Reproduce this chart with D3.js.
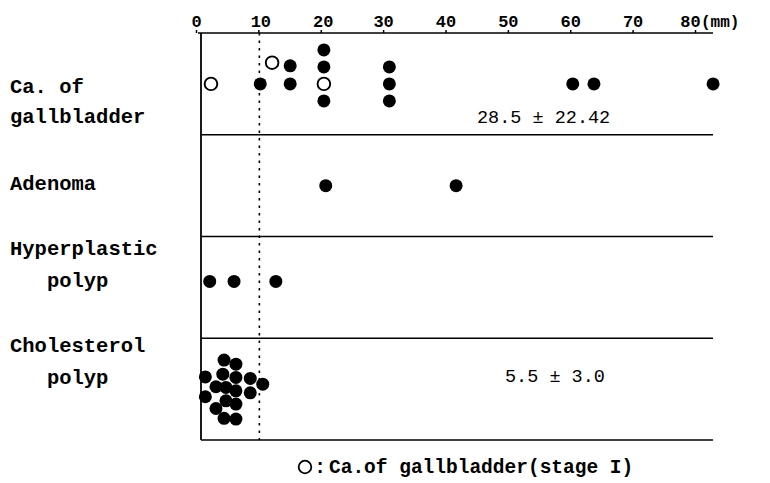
<!DOCTYPE html>
<html><head><meta charset="utf-8">
<script src="https://cdn.jsdelivr.net/npm/d3@7/dist/d3.min.js"></script>
<style>
html,body{margin:0;padding:0;background:#fff;}
text{white-space:pre;}
</style></head>
<body><svg id="chart" width="770" height="483"></svg>
<script>
// ---- data ----
const categories = ["Ca. of gallbladder", "Adenoma", "Hyperplastic polyp", "Cholesterol polyp"];
const categoryLabelLines = [["Ca. of", "gallbladder"], ["Adenoma"], ["Hyperplastic", "   polyp"], ["Cholesterol", "   polyp"]];
const tickValues = [0, 10, 20, 30, 40, 50, 60, 70, 80];
const unitLabel = "(mm)";
const cutoffValue = 10;
// size (mm), lane (stack offset in dot units), stage I flag
const caSize   = [2.4, 12.2, 20.5, 10.3, 15.1, 15.1, 20.5, 20.5, 20.5, 31, 31, 31, 60.4, 63.8, 82.9];
const caLane   = [0, -1.25, 0, 0, -1.06, 0, -2, -1, 1, -1, 0, 1, 0, 0, 0];
const caStageI = [1, 1, 1, 0, 0, 0, 0, 0, 0, 0, 0, 0, 0, 0, 0];
const adenomaSize = [20.8, 41.7];
const adenomaLane = [0, 0];
const hyperSize = [2.2, 6.1, 12.8];
const hyperLane = [-0.35, -0.35, -0.35];
const cholSize = [4.5, 6.4, 1.5, 4.3, 6.4, 8.7, 10.7, 3.2, 4.8, 6.4, 1.5, 8.7, 4.8, 6.4, 3.2, 4.5, 6.4];
const cholLane = [-1.71, -1.47, -0.72, -0.88, -0.69, -0.63, -0.29, -0.14, -0.10, 0.10, 0.45, 0.22, 0.69, 0.88, 1.14, 1.72, 1.76];
const statLabels = ["28.5 \u00b1 22.42", "", "", "5.5 \u00b1 3.0"];
const legendLabel = "Ca.of gallbladder(stage I)";

// ---- build ----
const points = [];
caSize.forEach((v,i)=>points.push({cat:categories[0], v, lane:caLane[i], open:caStageI[i]===1}));
adenomaSize.forEach((v,i)=>points.push({cat:categories[1], v, lane:adenomaLane[i], open:false}));
hyperSize.forEach((v,i)=>points.push({cat:categories[2], v, lane:hyperLane[i], open:false}));
cholSize.forEach((v,i)=>points.push({cat:categories[3], v, lane:cholLane[i], open:false}));

const svg = d3.select("#chart");
const plotLeft = 201, plotRight = 713, plotTop = 33, plotBottom = 440;
const x = d3.scaleLinear().domain([0, 80]).range([196, 695]);
const y = d3.scaleBand().domain(categories).range([plotTop, plotBottom]);
const lane = d3.scaleLinear().domain([0, 1]).range([0, 17]);
const mono = "'Liberation Mono','DejaVu Sans Mono',monospace";

// top axis
const axisG = svg.append("g").attr("transform", `translate(0,${plotTop})`);
const axis = d3.axisTop(x).tickValues(tickValues).tickSize(3).tickFormat(d3.format("d"));
axisG.call(axis);
axisG.select(".domain").remove();
axisG.selectAll(".tick line").attr("stroke", "#000").attr("stroke-width", 1.5);
axisG.selectAll(".tick text").attr("font-family", mono).attr("font-weight", "bold")
  .attr("font-size", 17).attr("fill", "#000").attr("y", -6)
  .attr("dx", d => d === 80 ? -5 : (d === 10 || d === 20 ? 2 : 0));
svg.append("line").attr("x1", plotLeft - 3).attr("x2", plotRight).attr("y1", plotTop).attr("y2", plotTop)
  .attr("stroke", "#000").attr("stroke-width", 1.6);
svg.append("text").attr("x", x(80) + 6).attr("y", plotTop - 6).attr("font-family", mono)
  .attr("font-weight", "bold").attr("font-size", 16).attr("fill", "#000").text(unitLabel);

// separators
svg.append("g").selectAll("line").data(categories).join("line")
  .attr("x1", plotLeft).attr("x2", plotRight)
  .attr("y1", d => y(d) + y.bandwidth()).attr("y2", d => y(d) + y.bandwidth())
  .attr("stroke", "#000").attr("stroke-width", 1.6);
svg.append("line").attr("x1", plotLeft).attr("x2", plotLeft).attr("y1", plotTop).attr("y2", plotBottom)
  .attr("stroke", "#000").attr("stroke-width", 1.8);
// cutoff dotted line
svg.append("line").attr("x1", x(cutoffValue) + 1).attr("x2", x(cutoffValue) + 1)
  .attr("y1", plotTop).attr("y2", plotBottom)
  .attr("stroke", "#000").attr("stroke-width", 1.6).attr("stroke-dasharray", "2.5,5");

// category labels
const labelBaselines = [[93, 123], [190], [255, 287], [352, 384]];
categories.forEach((c, i) => {
  categoryLabelLines[i].forEach((line, j) => {
    svg.append("text").attr("x", 10).attr("y", labelBaselines[i][j])
      .attr("font-family", mono).attr("font-weight", "bold").attr("font-size", 20.5)
      .attr("fill", "#000").text(line);
  });
});

// points
svg.append("g").selectAll("circle").data(points).join("circle")
  .attr("cx", d => x(d.v))
  .attr("cy", d => y(d.cat) + y.bandwidth() / 2 + lane(d.lane))
  .attr("r", d => d.open ? 6.3 : 6.5)
  .attr("fill", d => d.open ? "#fff" : "#000")
  .attr("stroke", "#000").attr("stroke-width", d => d.open ? 1.9 : 0);

// stats
const statPos = [[477, 123], null, null, [505, 382]];
statLabels.forEach((s, i) => {
  if (!s) return;
  svg.append("text").attr("x", statPos[i][0]).attr("y", statPos[i][1])
    .attr("font-family", mono).attr("font-size", 18.5).attr("fill", "#000").text(s);
});

// legend
svg.append("circle").attr("cx", 305).attr("cy", 467).attr("r", 6.3)
  .attr("fill", "#fff").attr("stroke", "#000").attr("stroke-width", 1.8);
svg.append("text").attr("x", 320).attr("y", 473).attr("text-anchor", "middle")
  .attr("font-family", mono).attr("font-weight", "bold").attr("font-size", 19.5).text(":");
svg.append("text").attr("x", 329).attr("y", 473)
  .attr("font-family", mono).attr("font-weight", "bold").attr("font-size", 19.5)
  .attr("fill", "#000").text(legendLabel);
</script></body></html>
